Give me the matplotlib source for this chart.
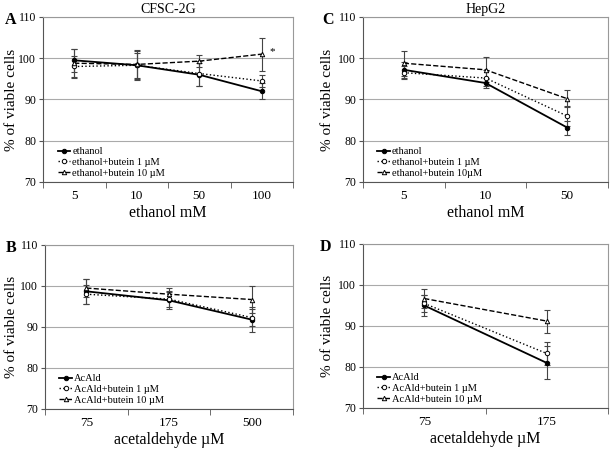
import numpy as np
import matplotlib.pyplot as plt

plt.rcParams['font.family'] = ['Liberation Serif', 'DejaVu Serif']

# panel A - CFSC-2G, ethanol
a_cats = ['5', '10', '50', '100']
a_eth = [99.5, 98.3, 96.0, 92.0]
a_eth_err = [2.8, 3.5, 2.8, 2.0]
a_b1 = [98.0, 98.3, 96.3, 94.5]
a_b1_err = [2.5, 3.0, 3.0, 1.5]
a_b10 = [98.8, 98.5, 99.3, 101.0]
a_b10_err = [3.5, 3.5, 1.5, 4.0]

# panel C - HepG2, ethanol
c_cats = ['5', '10', '50']
c_eth = [97.2, 94.0, 83.2]
c_eth_err = [2.0, 1.3, 1.7]
c_b1 = [96.5, 95.2, 86.0]
c_b1_err = [1.5, 2.0, 2.5]
c_b10 = [98.8, 97.2, 90.2]
c_b10_err = [3.0, 3.0, 2.0]

# panel B - CFSC-2G, acetaldehyde
b_cats = ['75', '175', '500']
b_ald = [98.7, 96.5, 91.8]
b_ald_err = [3.0, 2.0, 3.0]
b_b1 = [98.0, 96.8, 92.3]
b_b1_err = [2.3, 2.0, 2.0]
b_b10 = [99.5, 98.0, 96.7]
b_b10_err = [2.3, 1.5, 3.2]

# panel D - HepG2, acetaldehyde
d_cats = ['75', '175']
d_ald = [95.0, 81.0]
d_ald_err = [2.5, 4.0]
d_b1 = [95.5, 83.3]
d_b1_err = [2.0, 2.7]
d_b10 = [96.7, 91.2]
d_b10_err = [2.3, 2.8]


def panel(ax, cats, series, xlabel, letter, lx, ylx, title=None):
    x = np.arange(len(cats))
    styles = [('-', 'o', 'black', 1.3), (':', 'o', 'white', 1.0), ('--', '^', 'white', 1.0)]
    handles = []
    for (vals, err, lab), (ls, mk, fc, lw) in zip(series, styles):
        ax.errorbar(x, vals, yerr=err, fmt='none', ecolor='#444444', elinewidth=0.8,
                    capsize=2, capthick=0.8, zorder=2)
        h, = ax.plot(x, vals, ls=ls, color='black', lw=lw, marker=mk, ms=3.2,
                     mfc=fc, mec='black', mew=0.7, label=lab, zorder=3)
        handles.append(h)
    ax.set_xlim(-0.5, len(cats) - 0.5)
    ax.set_ylim(70, 110)
    ax.set_yticks([70, 80, 90, 100, 110])
    ax.set_xticks(x)
    ax.set_xticklabels(cats)
    ax.set_xticks(np.arange(len(cats) + 1) - 0.5, minor=True)
    ax.tick_params(axis='x', which='major', length=0, labelsize=9.5, pad=6)
    ax.tick_params(axis='x', which='minor', length=4, direction='out', color='#555555')
    ax.tick_params(axis='y', length=3, labelsize=8.5, pad=2, color='#555555')
    ax.yaxis.grid(True, color='#aaaaaa', lw=0.8)
    ax.set_axisbelow(True)
    for s in ['top', 'right']:
        ax.spines[s].set_color('#999999')
    for s in ['left', 'bottom']:
        ax.spines[s].set_color('#555555')
    ax.set_ylabel('% of viable cells', fontsize=11)
    ax.yaxis.set_label_coords(ylx, 0.5)
    ax.set_xlabel(xlabel, fontsize=11.5, labelpad=2)
    if title:
        ax.set_title(title, fontsize=10, pad=3)
    ax.text(lx, 0.98, letter, transform=ax.transAxes, fontsize=11.5,
            fontweight='bold', ha='left', va='center')
    ax.legend(handles=handles, loc='lower left', bbox_to_anchor=(0.05, 0.012),
              frameon=False, fontsize=7.5, handlelength=1.2, handletextpad=0.2,
              labelspacing=0.15, borderaxespad=0.0, borderpad=0.2)


fig = plt.figure(figsize=(6.1, 4.5), dpi=100)
axA = fig.add_axes([43 / 610, 1 - 182 / 450, 250 / 610, 165 / 450])
axC = fig.add_axes([363 / 610, 1 - 182 / 450, 245 / 610, 165 / 450])
axB = fig.add_axes([45 / 610, 1 - 409 / 450, 248 / 610, 164 / 450])
axD = fig.add_axes([363 / 610, 1 - 408 / 450, 245 / 610, 164 / 450])

panel(axA, a_cats, [(a_eth, a_eth_err, 'ethanol'),
                    (a_b1, a_b1_err, 'ethanol+butein 1 µM'),
                    (a_b10, a_b10_err, 'ethanol+butein 10 µM')],
      'ethanol mM', 'A', -0.152, -0.1, 'CFSC-2G')
axA.text(3.12, a_b10[3] + 0.5, '*', fontsize=8, ha='left', va='center')

panel(axC, c_cats, [(c_eth, c_eth_err, 'ethanol'),
                    (c_b1, c_b1_err, 'ethanol+butein 1 µM'),
                    (c_b10, c_b10_err, 'ethanol+butein 10µM')],
      'ethanol mM', 'C', -0.167, -0.118, 'HepG2')

panel(axB, b_cats, [(b_ald, b_ald_err, 'AcAld'),
                    (b_b1, b_b1_err, 'AcAld+butein 1 µM'),
                    (b_b10, b_b10_err, 'AcAld+butein 10 µM')],
      'acetaldehyde µM', 'B', -0.16, -0.109)

panel(axD, d_cats, [(d_ald, d_ald_err, 'AcAld'),
                    (d_b1, d_b1_err, 'AcAld+butein 1 µM'),
                    (d_b10, d_b10_err, 'AcAld+butein 10 µM')],
      'acetaldehyde µM', 'D', -0.175, -0.118)

fig.savefig('out.png', dpi=100)
